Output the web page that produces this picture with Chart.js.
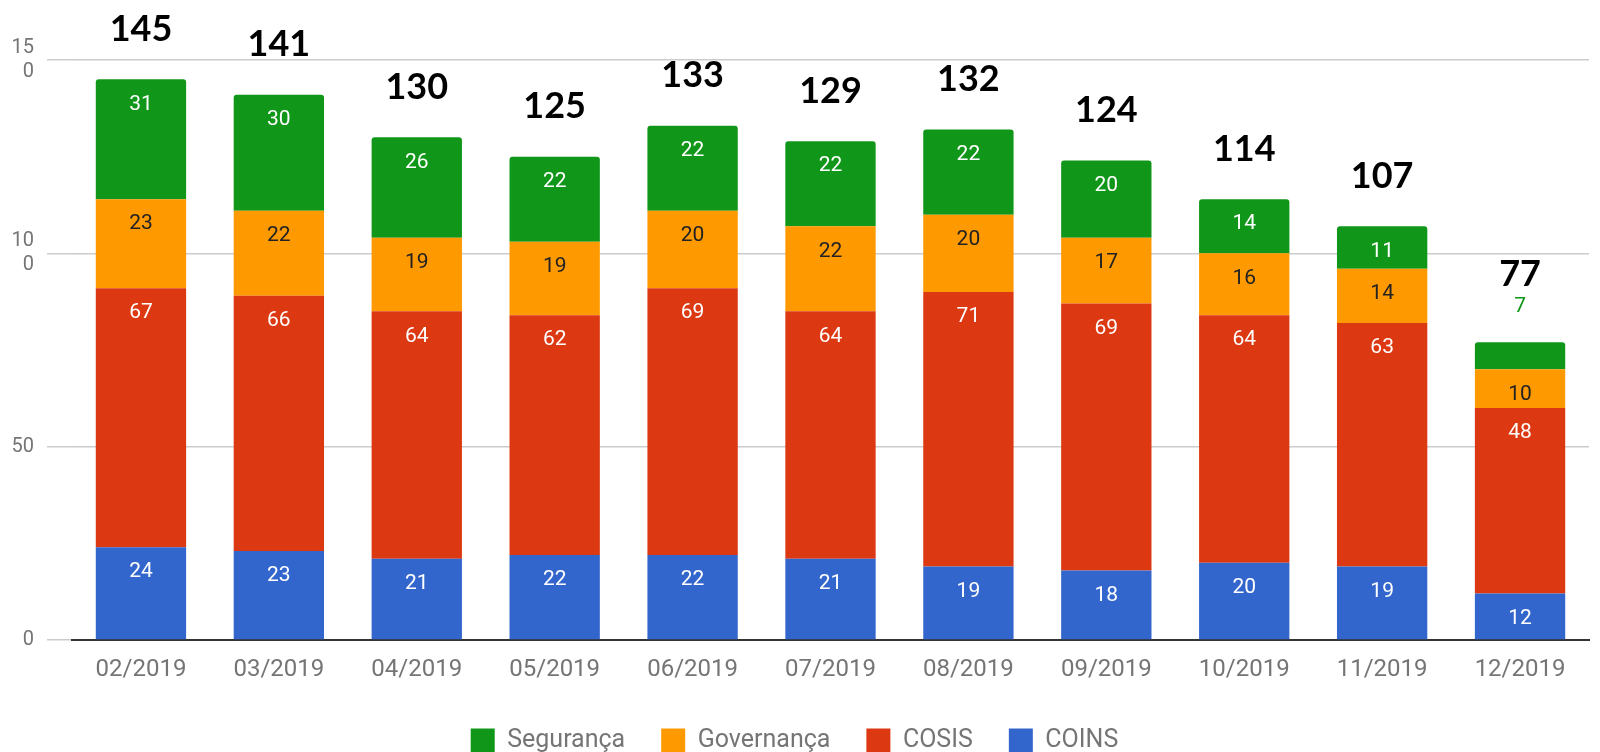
<!DOCTYPE html>
<html>
<head>
<meta charset="utf-8">
<title>Chamados por mês</title>
<script src="https://cdn.jsdelivr.net/npm/chart.js@4.4.1/dist/chart.umd.min.js"></script>
<style>
    body { margin: 0; background: #fff; }
    #wrap { width: 1600px; height: 752px; }
</style>
</head>
<body>
<div id="wrap"><canvas id="monthChart" width="1600" height="752"></canvas></div>
<script>
// data
const months = ["02/2019", "03/2019", "04/2019", "05/2019", "06/2019", "07/2019", "08/2019", "09/2019", "10/2019", "11/2019", "12/2019"];
const coins = [24, 23, 21, 22, 22, 21, 19, 18, 20, 19, 12];
const cosis = [67, 66, 64, 62, 69, 64, 71, 69, 64, 63, 48];
const governanca = [23, 22, 19, 19, 20, 22, 20, 17, 16, 14, 10];
const seguranca = [31, 30, 26, 22, 22, 22, 22, 20, 14, 11, 7];
const yTicks = [0, 50, 100, 150];

// totals above each bar
const totals = months.map((m, i) => coins[i] + cosis[i] + governanca[i] + seguranca[i]);

// labels inside the segments, or above the bar when the segment is too thin
const segmentLabels = {
    id: "segmentLabels",
    afterDatasetsDraw(chart) {
        const ctx = chart.ctx;
        const last = chart.data.datasets.length - 1;
        const lifted = [];
        ctx.save();
        ctx.textAlign = "center";
        ctx.textBaseline = "middle";
        ctx.font = "21px Roboto";
        chart.data.datasets.forEach((ds, di) => {
            chart.getDatasetMeta(di).data.forEach((bar, i) => {
                const h = bar.base - bar.y;
                if (h < 30) {
                    ctx.fillStyle = ds.backgroundColor;
                    ctx.fillText(ds.data[i], bar.x, bar.y - 36);
                    lifted[i] = true;
                } else {
                    ctx.fillStyle = ds.labelColor;
                    ctx.fillText(ds.data[i], bar.x, bar.y + 25);
                }
            });
        });

        // Totals
        ctx.font = "bold 36px Lato";
        ctx.fillStyle = "#000";
        chart.getDatasetMeta(last).data.forEach((bar, i) => {
            ctx.fillText(totals[i], bar.x, bar.y - (lifted[i] ? 68 : 50));
        });
        ctx.restore();
    }
};

const ctx = document.getElementById("monthChart").getContext("2d");

const monthChart = new Chart(ctx, {
    type: "bar",
    data: {
        labels: months,
        datasets: [
            { label: "COINS", data: coins, backgroundColor: "#3366CC", labelColor: "#fff" },
            { label: "COSIS", data: cosis, backgroundColor: "#DC3912", labelColor: "#fff" },
            { label: "Governança", data: governanca, backgroundColor: "#FF9900", labelColor: "#222" },
            {
                label: "Segurança", data: seguranca, backgroundColor: "#109618", labelColor: "#fff",
                borderRadius: { topLeft: 3, topRight: 3, bottomLeft: 0, bottomRight: 0 },
                borderSkipped: "bottom"
            }
        ]
    },
    options: {
        responsive: false,
        devicePixelRatio: 1,
        animation: false,
        layout: {
            padding: { left: 0, right: 11, top: 60, bottom: -11 }
        },
        datasets: {
            bar: { categoryPercentage: 1, barPercentage: 0.655 }
        },
        scales: {
            x: {
                stacked: true,
                grid: { display: false },
                border: { color: "#333", width: 2 },
                ticks: { color: "#757575", font: { family: "Roboto", size: 24 }, padding: 8 },
                afterFit(scale) { scale.height = 52; }
            },
            y: {
                stacked: true,
                min: 0,
                max: 150,
                afterBuildTicks(scale) { scale.ticks = yTicks.map(v => ({ value: v })); },
                grid: { color: "#cccccc", lineWidth: 1.5, tickLength: 25, tickColor: "#cccccc" },
                border: { display: false },
                ticks: {
                    color: "#757575",
                    padding: 13,
                    font: { family: "Roboto", size: 20, lineHeight: 1.2 },
                    // the axis is narrow, so three-digit labels wrap
                    callback: v => String(v).length > 2 ? [String(v).slice(0, 2), String(v).slice(2)] : String(v)
                },
                afterFit(scale) { scale.width = 72; }
            }
        },
        plugins: {
            legend: {
                position: "bottom",
                reverse: true,
                labels: {
                    boxWidth: 24,
                    boxHeight: 24,
                    padding: 36,
                    color: "#757575",
                    font: { family: "Roboto", size: 25 }
                }
            },
            tooltip: { enabled: false }
        }
    },
    plugins: [segmentLabels]
});
</script>
</body>
</html>
